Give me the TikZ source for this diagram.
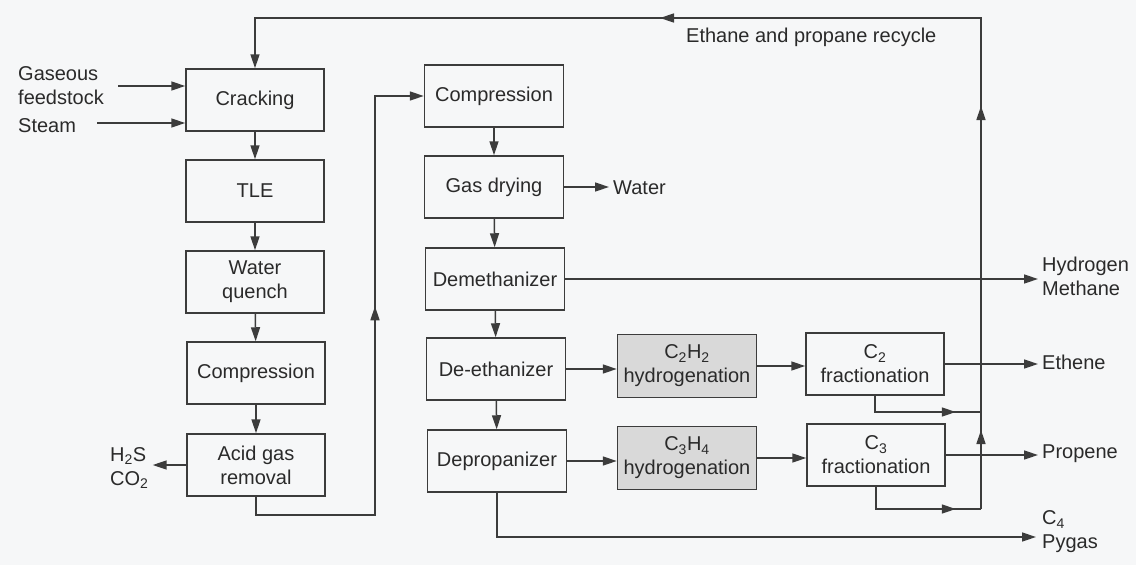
\documentclass[tikz,border=0pt]{standalone}
\usepackage{fontspec}
\setmainfont{Liberation Sans}
\usetikzlibrary{arrows.meta,decorations.markings,calc}
\definecolor{ink}{HTML}{3C3C3C}
\definecolor{txt}{HTML}{2A2A2A}
\definecolor{shade}{HTML}{D9D9D9}
\definecolor{paper}{HTML}{F6F7F8}
\tikzset{
  box/.style={draw=ink, line width=1.5pt, minimum width=138pt, minimum height=62pt, align=center, inner sep=2pt},
  hbox/.style={box, fill=shade},
  lbl/.style={align=left, inner sep=4pt},
  flow/.style={draw=ink, line width=1.5pt},
  arr/.style={flow, -{Triangle[length=14pt,width=9pt]}},
  mid/.style={postaction={decorate,decoration={markings,mark=at position #1 with {\arrow[ink]{Triangle[length=14pt,width=9pt]}}}}}
}
\begin{document}
\begin{tikzpicture}[x=1pt,y=-1pt,font=\fontsize{20}{24}\selectfont,text=txt]
\fill[paper] (0,0) rectangle (1136,565);
\useasboundingbox (0,0) rectangle (1136,565);

% left column
\node[box] (crack) at (255,100) {Cracking};
\node[box] (tle) at (255,191) {TLE};
\node[box] (quench) at (255,282) {Water\\quench};
\node[box] (comp1) at (256,373) {Compression};
\node[box] (acid) at (256,465) {Acid gas\\removal};

% middle column
\node[box, minimum width=139pt] (comp2) at (494,96) {Compression};
\node[box, minimum width=139pt] (dry) at (494,187) {Gas drying};
\node[box, minimum width=139pt] (demeth) at (495,279) {Demethanizer};
\node[box, minimum width=139pt] (deeth) at (496,369) {De-ethanizer};
\node[box, minimum width=139pt] (deprop) at (497,461) {Depropanizer};

% hydrogenation
\node[hbox, minimum width=139pt, minimum height=63pt] (h2) at (687,366) {C\textsubscript{2}H\textsubscript{2}\\hydrogenation};
\node[hbox, minimum width=139pt, minimum height=63pt] (h3) at (687,458) {C\textsubscript{3}H\textsubscript{4}\\hydrogenation};

% fractionation
\node[box] (c2f) at (875,364) {C\textsubscript{2}\\fractionation};
\node[box] (c3f) at (876,455) {C\textsubscript{3}\\fractionation};

% labels
\node[lbl, anchor=west] (gf) at (14,86) {Gaseous\\feedstock};
\node[lbl, anchor=west] (steam) at (14,126) {Steam};
\node[lbl, anchor=west] (acidout) at (106,468) {H\textsubscript{2}S\\CO\textsubscript{2}};
\node[lbl, anchor=west] (water) at (609,188) {Water};
\node[lbl, anchor=west, inner sep=0pt] (recl) at (686,37) {Ethane and propane recycle};
\node[lbl, anchor=west] (hm) at (1038,276) {Hydrogen\\Methane};
\node[lbl, anchor=west] (eth) at (1038,362) {Ethene};
\node[lbl, anchor=west] (prop) at (1038,454) {Propene};
\node[lbl, anchor=west] (c4) at (1038,532) {C\textsubscript{4}\\Pygas};

% junctions
\coordinate (j2) at (981,412);
\coordinate (j3) at (981,509);
\coordinate (ru) at (981,18);
\coordinate (bl) at (375,515);
\coordinate (c4in) at (1036,537);

% feeds
\draw[arr, shorten <=10pt] (gf.east) -- (gf.east -| crack.west);
\draw[arr, shorten <=17pt] ($(steam.east)+(0,-3)$) -- ($(steam.east -| crack.west)+(0,-3)$);

% left column flow
\draw[arr] (crack) -- (tle);
\draw[arr] (tle) -- (quench);
\draw[arr] (quench) -- (comp1);
\draw[arr] (comp1) -- (acid);
\draw[arr] (acid.west) -- (acid.west -| acidout.east);
\draw[arr, mid=346pt] (acid.south) |- (bl) |- (comp2.west);

% middle column flow
\draw[arr] (comp2) -- (dry);
\draw[arr] (dry.east) -- (dry.east -| water.west);
\draw[arr] (dry) -- (demeth);
\draw[arr] (demeth) -- (deeth);
\draw[arr] (deeth) -- (deprop);
\draw[arr] (demeth.east) -- (demeth.east -| hm.west);
\draw[arr] (deeth.east) -- (deeth.east -| h2.west);
\draw[arr] (deprop.east) -- (deprop.east -| h3.west);
\draw[arr] (deprop.south) |- (c4in);

% hydrogenation to fractionation
\draw[arr] (h2.east) -- (h2.east -| c2f.west);
\draw[arr] (h3.east) -- (h3.east -| c3f.west);

% products
\draw[arr] (c2f.east) -- (c2f.east -| eth.west);
\draw[arr] (c3f.east) -- (c3f.east -| prop.west);

% recycle
\draw[flow, mid=97pt] (c2f.south) |- (j2);
\draw[flow, mid=102pt] (c3f.south) |- (j3);
\draw[arr, mid=79pt, mid=403pt, mid=812pt] (j3) -- (ru) -| (crack.north);
\end{tikzpicture}
\end{document}
